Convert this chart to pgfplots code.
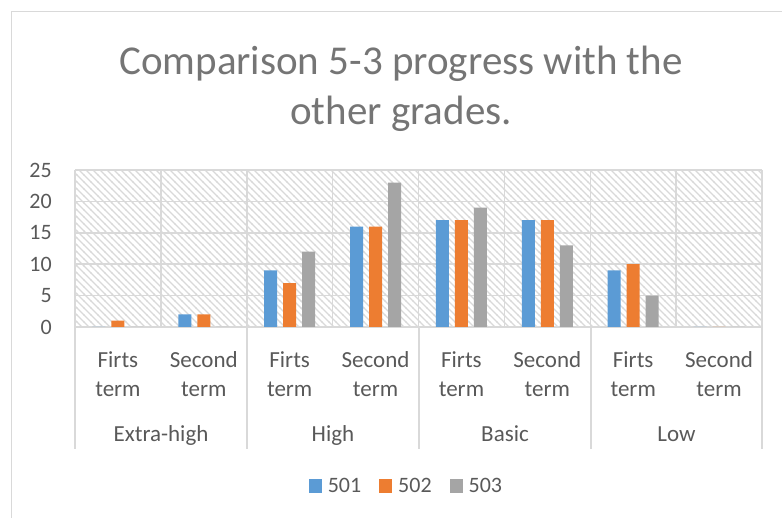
\documentclass[border=0pt]{standalone}
\usepackage{pgfplots}
\pgfplotsset{compat=1.18}
\usepackage{fontspec}
\setmainfont{Carlito}
\usetikzlibrary{patterns}
\definecolor{c501}{HTML}{5B9BD5}
\definecolor{c502}{HTML}{ED7D31}
\definecolor{c503}{HTML}{A5A5A5}
\definecolor{gridc}{HTML}{D9D9D9}
\definecolor{txt}{HTML}{595959}
\definecolor{ttl}{HTML}{757575}
\pgfdeclarepatternformonly{exhatch}{\pgfpoint{-1pt}{-1pt}}{\pgfpoint{8pt}{8pt}}{\pgfpoint{7pt}{7pt}}{%
  \pgfsetlinewidth{1.3pt}%
  \pgfpathmoveto{\pgfpoint{-0.5pt}{7.5pt}}%
  \pgfpathlineto{\pgfpoint{7.5pt}{-0.5pt}}%
  \pgfusepath{stroke}%
}
\pgfplotstableread{
x v501 v502 v503
0 0 1 0
1 2 2 0
2 9 7 12
3 16 16 23
4 17 17 19
5 17 17 13
6 9 10 5
7 0 0 0
}\datatable
\begin{document}
\begin{tikzpicture}[x=1pt,y=1pt]
\useasboundingbox (0,0) rectangle (782,518);
\draw[gridc, line width=1pt] (11,0) -- (11,506) -- (782,506);
\node[text=ttl, font=\fontsize{41}{50}\selectfont, anchor=base, inner sep=0pt] at (401,443) {Comparison 5-3 progress with the};
\node[text=ttl, font=\fontsize{41}{50}\selectfont, anchor=base, inner sep=0pt] at (401,393) {other grades.};
\begin{axis}[
  at={(75pt,191pt)}, anchor=south west, scale only axis,
  width=687pt, height=157pt,
  ymin=0, ymax=25, xmin=-0.5, xmax=7.5,
  ytick={0,5,...,25},
  xtick={0,...,7},
  xticklabels={{Firts\\term},{Second\\term},{Firts\\term},{Second\\term},{Firts\\term},{Second\\term},{Firts\\term},{Second\\term}},
  minor xtick={-0.5,0.5,...,7.5},
  ymajorgrids, xminorgrids,
  major grid style={gridc, line width=1.5pt},
  minor grid style={gridc, line width=1.5pt},
  major tick length=0pt, minor tick length=0pt,
  axis line style={draw=none},
  tick style={draw=none},
  axis background/.style={pattern=exhatch, pattern color=gridc},
  /pgf/number format/assume math mode=true,
  yticklabel style={font=\fontsize{22}{26}\selectfont, text=txt, anchor=east, inner sep=0pt, xshift=-23pt},
  xticklabel style={font=\fontsize{23}{29}\selectfont, text=txt, align=center, anchor=north, inner sep=0pt, yshift=-24pt},
  ybar=6pt, bar width=13pt,
  legend columns=3,
  legend style={draw=none, fill=none, at={(0.481,-1.013)}, anchor=center,
    font=\fontsize{22}{26}\selectfont, text=txt,
    nodes={inner sep=0pt},
    /tikz/every odd column/.append style={column sep=6pt},
    /tikz/every even column/.append style={column sep=18pt}},
  legend image code/.code={\fill[#1] (0pt,-7pt) rectangle (13pt,7pt);},
]
\addplot[fill=c501, draw=none] table[x=x, y=v501] {\datatable};
\addplot[fill=c502, draw=none] table[x=x, y=v502] {\datatable};
\addplot[fill=c503, draw=none] table[x=x, y=v503] {\datatable};
\legend{501,502,503}
\end{axis}
\foreach \xx in {75,247,419,591,762} \draw[gridc, line width=1.5pt] (\xx,191) -- (\xx,69);
\foreach \xx/\lab in {161/Extra-high,333/High,505/Basic,676.5/Low}
  \node[text=txt, font=\fontsize{23}{29}\selectfont, anchor=base, inner sep=0pt] at (\xx,76) {\lab};
\end{tikzpicture}
\end{document}
